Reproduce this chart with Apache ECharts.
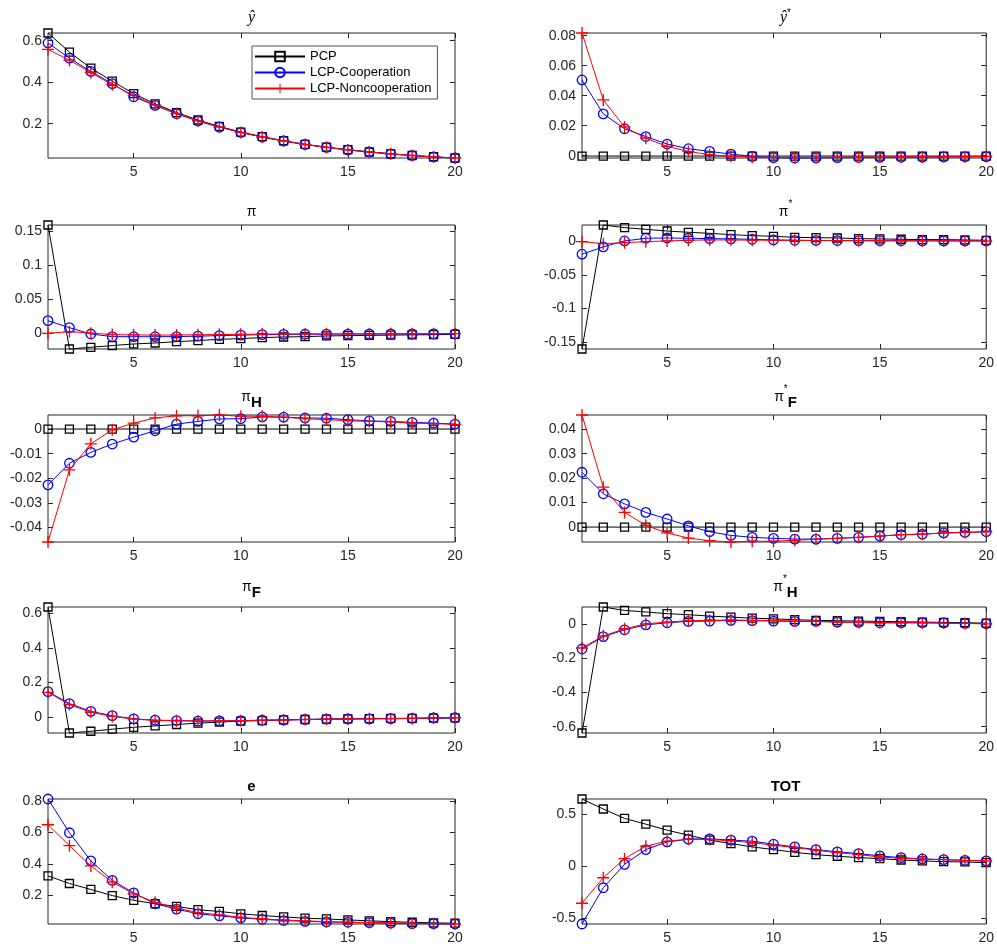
<!DOCTYPE html>
<html>
<head>
<meta charset="utf-8">
<script src="https://cdn.jsdelivr.net/npm/echarts@6/dist/echarts.min.js"></script>
<style>html,body{margin:0;padding:0;background:#fff;}#c{width:997px;height:947px;}</style>
</head>
<body>
<div id="c"></div>
<script>
// ---------------- data ----------------
const periods = [1,2,3,4,5,6,7,8,9,10,11,12,13,14,15,16,17,18,19,20];
const xTickLabels = [5,10,15,20];
const seriesNames = ['PCP','LCP-Cooperation','LCP-Noncooperation'];

const yhat_PCP  = [0.637,0.545,0.468,0.405,0.345,0.296,0.254,0.218,0.187,0.160,0.138,0.118,0.101,0.087,0.075,0.064,0.055,0.047,0.041,0.035];
const yhat_COOP = [0.589,0.516,0.452,0.393,0.330,0.288,0.248,0.213,0.184,0.158,0.136,0.117,0.100,0.086,0.074,0.064,0.055,0.047,0.040,0.035];
const yhat_NONC = [0.558,0.506,0.446,0.388,0.337,0.290,0.249,0.214,0.184,0.158,0.136,0.117,0.100,0.086,0.074,0.064,0.055,0.047,0.040,0.035];
const yhat_ticks = [0.2,0.4,0.6];

const yhatStar_PCP  = [-0.0002,-0.0002,-0.0002,-0.0002,-0.0002,-0.0002,-0.0002,-0.0002,-0.0002,-0.0002,-0.0002,-0.0002,-0.0002,-0.0002,-0.0002,-0.0002,-0.0002,-0.0002,-0.0002,-0.0002];
const yhatStar_COOP = [0.0505,0.0279,0.0180,0.0128,0.0078,0.0047,0.0029,0.0011,-0.0004,-0.0013,-0.0015,-0.0014,-0.0013,-0.0012,-0.0011,-0.0010,-0.0009,-0.0008,-0.0007,-0.0006];
const yhatStar_NONC = [0.0818,0.0372,0.0192,0.0117,0.0062,0.0029,0.0007,-0.0004,-0.0010,-0.0011,-0.0011,-0.0011,-0.0010,-0.0010,-0.0009,-0.0008,-0.0008,-0.0007,-0.0006,-0.0005];
const yhatStar_ticks = [0,0.02,0.04,0.06,0.08];

const pi_PCP  = [0.1587,-0.0230,-0.0205,-0.0180,-0.0156,-0.0142,-0.0122,-0.0107,-0.0088,-0.0078,-0.0063,-0.0054,-0.0049,-0.0039,-0.0034,-0.0030,-0.0026,-0.0023,-0.0020,-0.0016];
const pi_COOP = [0.0185,0.0083,-0.0010,-0.0049,-0.0050,-0.0050,-0.0048,-0.0042,-0.0034,-0.0026,-0.0020,-0.0016,-0.0014,-0.0012,-0.0011,-0.0010,-0.0010,-0.0009,-0.0009,-0.0008];
const pi_NONC = [0.0000,0.0024,0.0002,-0.0018,-0.0024,-0.0026,-0.0025,-0.0022,-0.0018,-0.0015,-0.0012,-0.0010,-0.0009,-0.0008,-0.0008,-0.0007,-0.0007,-0.0006,-0.0006,-0.0005];
const pi_ticks = [0,0.05,0.1,0.15];

const piStar_PCP  = [-0.1598,0.0236,0.0197,0.0172,0.0147,0.0128,0.0113,0.0093,0.0079,0.0069,0.0054,0.0049,0.0044,0.0034,0.0030,0.0025,0.0020,0.0020,0.0015,0.0010];
const piStar_COOP = [-0.0196,-0.0088,0.0000,0.0040,0.0044,0.0040,0.0034,0.0030,0.0025,0.0015,0.0010,0.0008,0.0006,0.0005,0.0004,0.0003,0.0002,0.0002,0.0001,0.0000];
const piStar_NONC = [-0.0010,-0.0040,-0.0025,-0.0010,0.0000,0.0010,0.0015,0.0015,0.0012,0.0010,0.0008,0.0006,0.0005,0.0004,0.0003,0.0002,0.0002,0.0001,0.0001,0.0000];
const piStar_ticks = [-0.15,-0.1,-0.05,0];

const piH_PCP  = [0,0,0,0,0,0,0,0,0,0,0,0,0,0,0,0,0,0,0,0];
const piH_COOP = [-0.0227,-0.0139,-0.0095,-0.0061,-0.0033,-0.0007,0.0020,0.0031,0.0041,0.0042,0.0049,0.0048,0.0045,0.0044,0.0038,0.0033,0.0031,0.0027,0.0024,0.0020];
const piH_NONC = [-0.0459,-0.0166,-0.0060,-0.0003,0.0024,0.0045,0.0054,0.0054,0.0057,0.0052,0.0052,0.0048,0.0042,0.0038,0.0034,0.0031,0.0029,0.0024,0.0022,0.0019];
const piH_ticks = [-0.04,-0.03,-0.02,-0.01,0];

const piStarF_PCP  = [0,0,0,0,0,0,0,0,0,0,0,0,0,0,0,0,0,0,0,0];
const piStarF_COOP = [0.0224,0.0136,0.0095,0.0060,0.0033,0.0005,-0.0019,-0.0034,-0.0042,-0.0046,-0.0049,-0.0049,-0.0046,-0.0042,-0.0037,-0.0031,-0.0029,-0.0024,-0.0022,-0.0019];
const piStarF_NONC = [0.0458,0.0163,0.0060,0.0007,-0.0024,-0.0045,-0.0056,-0.0061,-0.0058,-0.0058,-0.0054,-0.0050,-0.0046,-0.0042,-0.0037,-0.0031,-0.0029,-0.0024,-0.0022,-0.0019];
const piStarF_ticks = [0,0.01,0.02,0.03,0.04];

const piF_PCP  = [0.636,-0.092,-0.082,-0.070,-0.059,-0.051,-0.043,-0.035,-0.029,-0.023,-0.020,-0.016,-0.014,-0.012,-0.010,-0.009,-0.008,-0.007,-0.006,-0.005];
const piF_COOP = [0.147,0.078,0.033,0.008,-0.010,-0.018,-0.020,-0.023,-0.022,-0.021,-0.018,-0.017,-0.014,-0.012,-0.011,-0.010,-0.009,-0.008,-0.005,-0.004];
const piF_NONC = [0.143,0.072,0.028,0.004,-0.012,-0.019,-0.021,-0.023,-0.022,-0.021,-0.018,-0.017,-0.014,-0.012,-0.011,-0.010,-0.009,-0.008,-0.005,-0.004];
const piF_ticks = [0,0.2,0.4,0.6];

const piStarH_PCP  = [-0.637,0.098,0.078,0.069,0.059,0.053,0.045,0.039,0.033,0.029,0.024,0.020,0.018,0.016,0.014,0.012,0.010,0.008,0.006,0.004];
const piStarH_COOP = [-0.147,-0.075,-0.035,-0.006,0.006,0.014,0.016,0.020,0.018,0.016,0.014,0.014,0.010,0.008,0.006,0.006,0.006,0.005,0.002,0.001];
const piStarH_NONC = [-0.141,-0.071,-0.029,0.000,0.010,0.018,0.020,0.022,0.020,0.020,0.016,0.015,0.010,0.008,0.006,0.006,0.006,0.004,0.002,0.000];
const piStarH_ticks = [-0.6,-0.4,-0.2,0];

const e_PCP  = [0.323,0.275,0.237,0.198,0.168,0.146,0.129,0.108,0.097,0.082,0.071,0.062,0.054,0.049,0.043,0.037,0.032,0.028,0.024,0.022];
const e_COOP = [0.813,0.598,0.419,0.295,0.215,0.146,0.112,0.082,0.069,0.056,0.047,0.039,0.034,0.030,0.028,0.026,0.022,0.019,0.019,0.017];
const e_NONC = [0.649,0.516,0.387,0.284,0.209,0.155,0.118,0.090,0.075,0.060,0.049,0.043,0.037,0.032,0.028,0.026,0.024,0.022,0.019,0.017];
const e_ticks = [0.2,0.4,0.6,0.8];

const TOT_PCP  = [0.648,0.552,0.461,0.406,0.348,0.300,0.252,0.219,0.187,0.161,0.135,0.113,0.097,0.084,0.074,0.061,0.052,0.045,0.042,0.035];
const TOT_COOP = [-0.555,-0.206,0.019,0.161,0.235,0.261,0.265,0.252,0.242,0.213,0.187,0.161,0.139,0.123,0.100,0.084,0.071,0.065,0.058,0.052];
const TOT_NONC = [-0.355,-0.110,0.074,0.194,0.242,0.261,0.258,0.245,0.229,0.203,0.181,0.155,0.132,0.113,0.090,0.077,0.068,0.065,0.055,0.052];
const TOT_ticks = [-0.5,0,0.5];

// ---------------- layout / style ----------------
const FONT = 'Liberation Sans, Arial, Helvetica, sans-serif';
const AX = '#262626';
const colLeft = [48, 582];
const plotW = 407;
const rowTop = [33, 225, 415, 607, 799];
const rowH = [125, 124, 127, 126, 125];
const titleTop = [8, 199, 384, 574, 778];

const panels = [
  {title:'{yi|ŷ}', series:[yhat_PCP, yhat_COOP, yhat_NONC], ticks: yhat_ticks},
  {title:'{yi|ŷ}{sup|*}', series:[yhatStar_PCP, yhatStar_COOP, yhatStar_NONC], ticks: yhatStar_ticks},
  {title:'{p|π}', series:[pi_PCP, pi_COOP, pi_NONC], ticks: pi_ticks},
  {title:'{p|π}{sup|*}', series:[piStar_PCP, piStar_COOP, piStar_NONC], ticks: piStar_ticks},
  {title:'{p|π}{sub|H}', series:[piH_PCP, piH_COOP, piH_NONC], ticks: piH_ticks},
  {title:'{p|π}{sup|*}{sub|F}', series:[piStarF_PCP, piStarF_COOP, piStarF_NONC], ticks: piStarF_ticks},
  {title:'{p|π}{sub|F}', series:[piF_PCP, piF_COOP, piF_NONC], ticks: piF_ticks},
  {title:'{p|π}{sup|*}{sub|H}', series:[piStarH_PCP, piStarH_COOP, piStarH_NONC], ticks: piStarH_ticks},
  {title:'{b|e}', series:[e_PCP, e_COOP, e_NONC], ticks: e_ticks},
  {title:'{b|TOT}', series:[TOT_PCP, TOT_COOP, TOT_NONC], ticks: TOT_ticks}
];

const richTitle = {
  yi: {fontFamily:'Liberation Serif, DejaVu Serif, serif', fontStyle:'italic', fontWeight:'normal', fontSize:16, color:'#000', lineHeight:20, verticalAlign:'middle'},
  p: {fontFamily:FONT, fontSize:14, fontWeight:'normal', color:'#000', lineHeight:26, verticalAlign:'middle'},
  sup: {fontFamily:FONT, fontSize:10, fontWeight:'normal', color:'#000', lineHeight:10, verticalAlign:'top'},
  sub: {fontFamily:FONT, fontSize:15, fontWeight:'bold', color:'#000', lineHeight:14, verticalAlign:'bottom'},
  b: {fontFamily:FONT, fontSize:15, fontWeight:'bold', color:'#000', lineHeight:18, verticalAlign:'middle'}
};

const styles = [
  {symbol:'rect', symbolSize:8, color:'#000000'},
  {symbol:'circle', symbolSize:9.5, color:'#0000ff'},
  {symbol:'path://M4.45,0h1.1v10h-1.1z M0,4.45h10v1.1h-10z', symbolSize:12, color:'#ff0000', filled:true}
];

const grids = [], xAxes = [], yAxes = [], series = [], titles = [];
panels.forEach((pn, i) => {
  const col = i % 2, row = Math.floor(i / 2);
  grids.push({left: colLeft[col], top: rowTop[row], width: plotW, height: rowH[row],
    show: true, borderColor: AX, borderWidth: 1, backgroundColor: '#fff', containLabel: false});
  const all = [].concat(...pn.series);
  const ymin = Math.min(...all), ymax = Math.max(...all);
  const tickStyle = {show:true, inside:true, length:5, lineStyle:{color:AX, width:1}};
  const noLine = {show:false, onZero:false};
  xAxes.push({type:'value', gridIndex:i, min:1, max:20, position:'bottom',
    axisLine: noLine, splitLine:{show:false},
    axisTick: Object.assign({customValues:xTickLabels}, tickStyle),
    axisLabel:{customValues:xTickLabels, fontSize:14, color:AX, fontFamily:FONT, margin:7}});
  xAxes.push({type:'value', gridIndex:i, min:1, max:20, position:'top',
    axisLine: noLine, splitLine:{show:false},
    axisTick: Object.assign({customValues:xTickLabels}, tickStyle),
    axisLabel:{show:false, customValues:xTickLabels}});
  yAxes.push({type:'value', gridIndex:i, min:ymin, max:ymax, position:'left', scale:true,
    axisLine: noLine, splitLine:{show:false},
    axisTick: Object.assign({customValues:pn.ticks}, tickStyle),
    axisLabel:{customValues:pn.ticks, fontSize:14, color:AX, fontFamily:FONT, margin:6,
      formatter: v => String(v)}});
  yAxes.push({type:'value', gridIndex:i, min:ymin, max:ymax, position:'right', scale:true,
    axisLine: noLine, splitLine:{show:false},
    axisTick: Object.assign({customValues:pn.ticks}, tickStyle),
    axisLabel:{show:false, customValues:pn.ticks}});
  pn.series.forEach((vals, k) => {
    const st = styles[k];
    series.push({
      type:'line', name: seriesNames[k], xAxisIndex: 2*i, yAxisIndex: 2*i,
      data: periods.map((p, j) => [p, vals[j]]),
      symbol: st.symbol, symbolSize: st.symbolSize, showAllSymbol: true, clip: false,
      color: st.color,
      lineStyle: {color: st.color, width: 1},
      itemStyle: st.filled ? {color: st.color, borderWidth: 0} : {color: 'rgba(255,255,255,0)', borderColor: st.color, borderWidth: 1.3},
      emphasis: {disabled: true}, z: 2 + k, animation: false
    });
  });
  titles.push({text: pn.title, left: colLeft[col] + plotW / 2, top: titleTop[row], textAlign: 'center',
    padding: 0, textStyle: {fontWeight:'normal', rich: richTitle}});
});

const chart = echarts.init(document.getElementById('c'), null, {renderer: 'canvas'});
chart.setOption({
  animation: false,
  backgroundColor: '#fff',
  title: titles,
  grid: grids,
  xAxis: xAxes,
  yAxis: yAxes,
  legend: {
    data: seriesNames, orient: 'vertical', left: 252, top: 46,
    itemWidth: 50, itemHeight: 12, itemGap: 3,
    padding: [4, 6, 4, 2], borderColor: AX, borderWidth: 0.8, backgroundColor: '#fff',
    textStyle: {fontSize: 13, fontFamily: FONT, color: '#000'},
    selectedMode: false, z: 10
  },
  series: series
});
</script>
</body>
</html>
